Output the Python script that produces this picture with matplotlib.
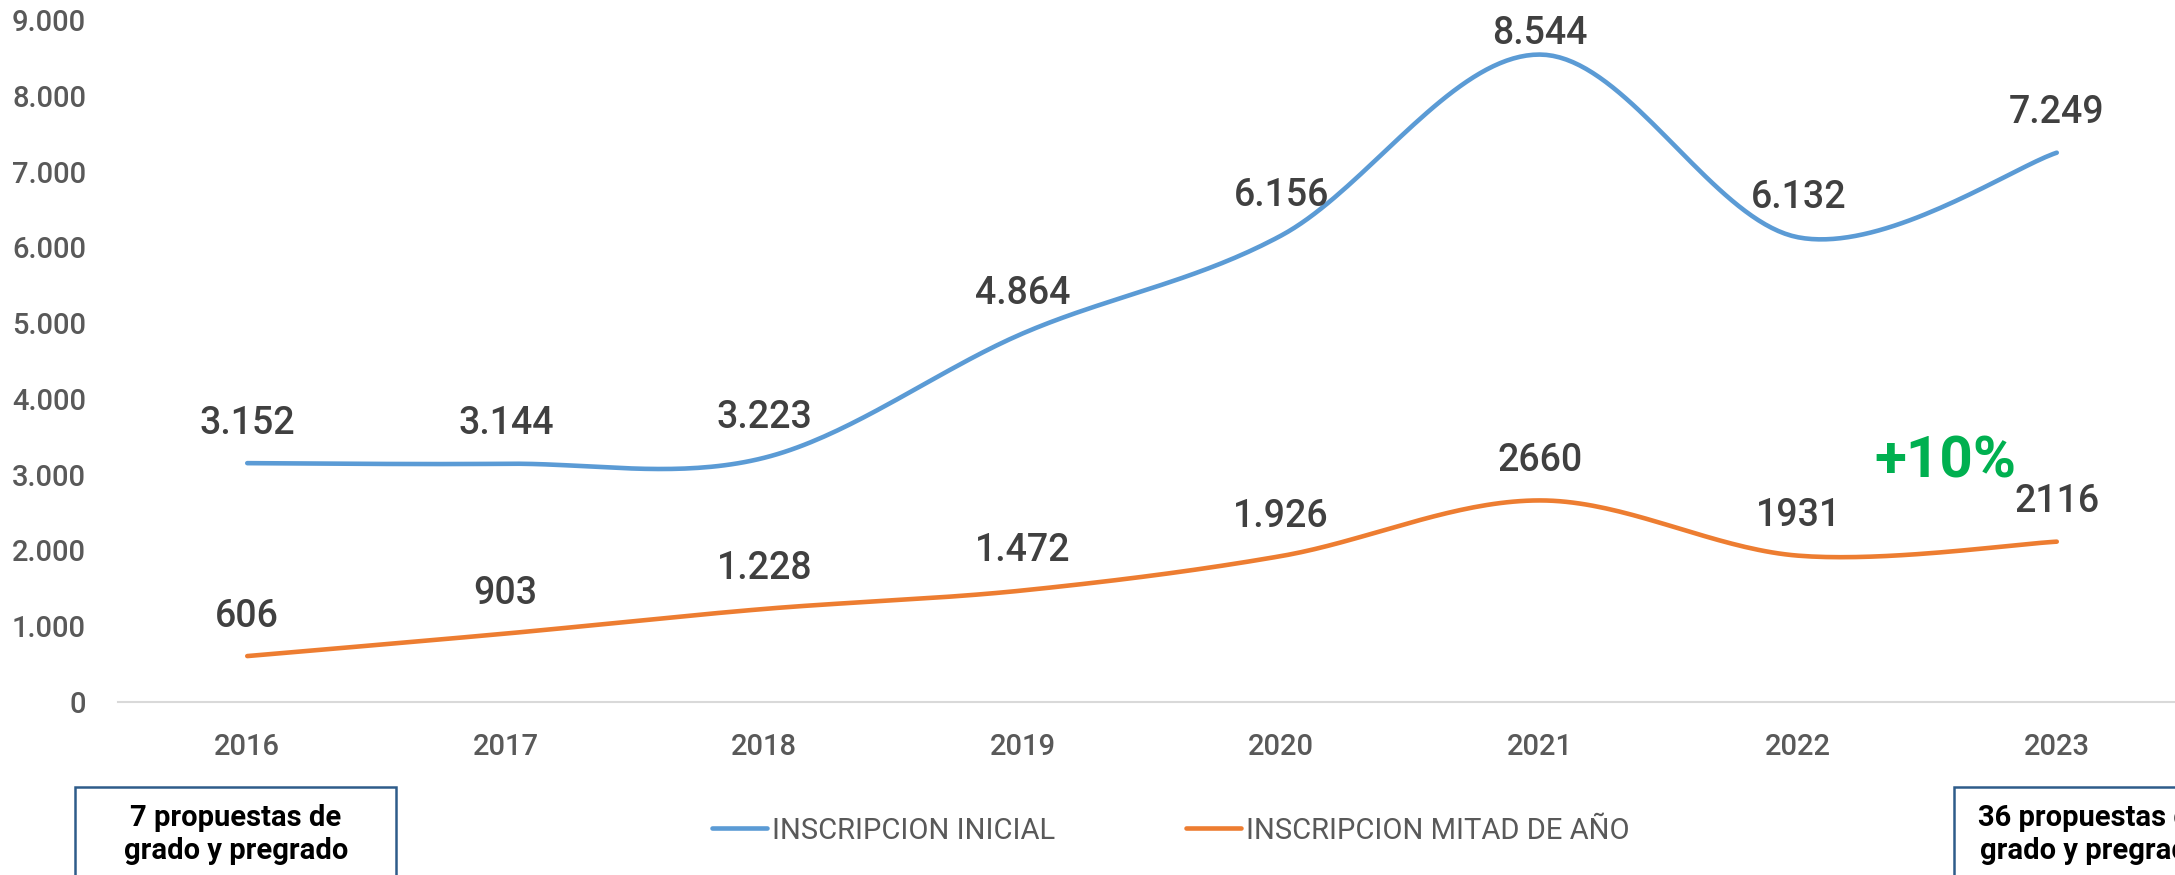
import numpy as np
import matplotlib
matplotlib.use('Agg')
import matplotlib.pyplot as plt
from matplotlib.lines import Line2D
from matplotlib.patches import Rectangle

plt.rcParams['font.family'] = ['Roboto', 'DejaVu Sans']

years = ['2016', '2017', '2018', '2019', '2020', '2021', '2022', '2023']
inscripcionInicial = [3152, 3144, 3223, 4864, 6156, 8544, 6132, 7249]
inscripcionMitad = [606, 903, 1228, 1472, 1926, 2660, 1931, 2116]
labelsInicial = ['3.152', '3.144', '3.223', '4.864', '6.156', '8.544', '6.132', '7.249']
labelsMitad = ['606', '903', '1.228', '1.472', '1.926', '2660', '1931', '2116']
yTicks = [0, 1000, 2000, 3000, 4000, 5000, 6000, 7000, 8000, 9000]
yTickLabels = ['0', '1.000', '2.000', '3.000', '4.000', '5.000', '6.000', '7.000', '8.000', '9.000']
seriesNames = ['INSCRIPCION INICIAL', 'INSCRIPCION MITAD DE AÑO']
boxTexts = [['7 propuestas de', 'grado y pregrado'], ['36 propuestas de', 'grado y pregrado']]
growthText = '+10%'

BLUE = '#5B9BD5'
ORANGE = '#ED7D31'
W, H = 2175, 875


def smoothCurve(x, y, steps=40):
    # Excel-like smoothed line: Bezier segments with Catmull-Rom control points
    x = np.asarray(x, dtype=float)
    y = np.asarray(y, dtype=float)
    px = np.concatenate([[x[0]], x, [x[-1]]])
    py = np.concatenate([[y[0]], y, [y[-1]]])
    t = np.linspace(0, 1, steps)
    outX, outY = [], []
    for i in range(1, len(px) - 2):
        x0, x1, x2, x3 = px[i - 1], px[i], px[i + 1], px[i + 2]
        y0, y1, y2, y3 = py[i - 1], py[i], py[i + 1], py[i + 2]
        c1x, c1y = x1 + (x2 - x0) / 6, y1 + (y2 - y0) / 6
        c2x, c2y = x2 - (x3 - x1) / 6, y2 - (y3 - y1) / 6
        bx = (1 - t) ** 3 * x1 + 3 * (1 - t) ** 2 * t * c1x + 3 * (1 - t) * t ** 2 * c2x + t ** 3 * x2
        by = (1 - t) ** 3 * y1 + 3 * (1 - t) ** 2 * t * c1y + 3 * (1 - t) * t ** 2 * c2y + t ** 3 * y2
        outX.extend(bx)
        outY.extend(by)
    return np.array(outX), np.array(outY)


fig = plt.figure(figsize=(W / 100, H / 100), dpi=100)
ax = fig.add_axes([118 / W, 1 - 702 / H, (2186 - 118) / W, (702 - 20) / H])

xs = np.arange(len(years))
for values, color in [(inscripcionInicial, BLUE), (inscripcionMitad, ORANGE)]:
    sx, sy = smoothCurve(xs, values)
    ax.plot(sx, sy, color=color, lw=3.3, solid_capstyle='round', zorder=3)

ax.set_xlim(-0.5, len(years) - 0.5)
ax.set_ylim(0, 9000)

ax.set_yticks(yTicks)
ax.set_yticklabels(yTickLabels, fontweight='medium')
ax.set_xticks(xs)
ax.set_xticklabels(years, fontweight='medium')
ax.tick_params(axis='y', length=0, pad=23, labelsize=21, labelcolor='#595959')
ax.tick_params(axis='x', length=0, pad=22, labelsize=21, labelcolor='#595959')

for side in ['left', 'top', 'right']:
    ax.spines[side].set_visible(False)
ax.spines['bottom'].set_color('#D9D9D9')
ax.spines['bottom'].set_linewidth(1.5)

# data labels above the points, kept inside the plot area
fig.canvas.draw()
axTop = ax.transAxes.transform((0, 1))[1]
for values, labels in [(inscripcionInicial, labelsInicial), (inscripcionMitad, labelsMitad)]:
    for i, (v, lab) in enumerate(zip(values, labels)):
        pointY = ax.transData.transform((i, v))[1]
        centerY = min(pointY + 40, axTop - 13)
        ax.annotate(lab, (i, v), xytext=(0, (centerY - pointY) * 0.72),
                    textcoords='offset points', ha='center', va='center',
                    fontsize=27, color='#404040', fontweight='medium')

ax.text(6.57, 3170, growthText, ha='center', va='center', fontsize=42,
        fontweight='bold', color='#00B050')

# legend
legendItems = [(seriesNames[0], BLUE, 712, 767), (seriesNames[1], ORANGE, 1186, 1241)]
for name, color, x0, x1 in legendItems:
    fig.add_artist(Line2D([x0 / W, x1 / W], [1 - 828 / H, 1 - 828 / H], color=color,
                          lw=3.3, solid_capstyle='round', transform=fig.transFigure))
    fig.text((x1 + 5) / W, 1 - 839 / H, name, ha='left', va='baseline',
             fontsize=21, color='#595959')

# note boxes at the bottom corners
boxSpecs = [(75, 321, 236), (1954, 330, 2092)]
for (left, width, cx), lines in zip(boxSpecs, boxTexts):
    fig.add_artist(Rectangle((left / W, -0.05), width / W, 0.05 + 1 - 787 / H,
                             transform=fig.transFigure, fill=False,
                             edgecolor='#2E5C8A', lw=1.8, clip_on=False))
    for line, base in zip(lines, [826, 859]):
        fig.text(cx / W, 1 - base / H, line, ha='center', va='baseline',
                 fontsize=21, fontweight='bold', color='black')

fig.savefig('out.png', dpi=100)
